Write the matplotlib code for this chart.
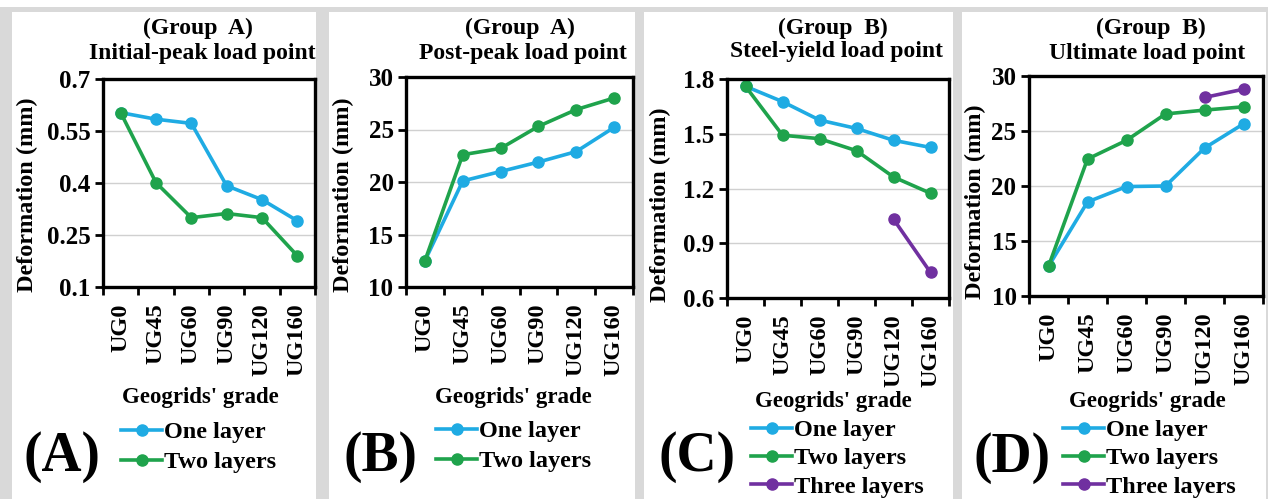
import numpy as np
import matplotlib.pyplot as plt
from matplotlib.patches import Rectangle

plt.rcParams['font.family'] = ['Liberation Serif', 'DejaVu Serif']
plt.rcParams['font.weight'] = 'bold'

# --- dados ---
grades = ["UG0", "UG45", "UG60", "UG90", "UG120", "UG160"]

a_one = [0.603, 0.584, 0.572, 0.392, 0.352, 0.291]
a_two = [0.603, 0.401, 0.300, 0.312, 0.300, 0.190]

b_one = [12.5, 20.1, 21.0, 21.9, 22.9, 25.2]
b_two = [12.5, 22.6, 23.2, 25.3, 26.9, 28.0]

c_one = [1.76, 1.676, 1.575, 1.529, 1.464, 1.425]
c_two = [1.76, 1.492, 1.473, 1.407, 1.263, 1.174]
c_three = [np.nan, np.nan, np.nan, np.nan, 1.032, 0.740]

d_one = [12.7, 18.55, 19.95, 20.0, 23.45, 25.65]
d_two = [12.7, 22.45, 24.15, 26.55, 26.9, 27.2]
d_three = [np.nan, np.nan, np.nan, np.nan, 28.05, 28.8]

blue = "#1fabe3"
green = "#1fa34c"
purple = "#7030a0"

W, H = 1268, 499
fig = plt.figure(figsize=(W / 100, H / 100), dpi=100)
fig.patch.set_facecolor("#d9d9d9")


def px(x, y):
    return x / W, 1 - y / H


# fundo: faixa branca no topo e paineis brancos
fig.patches.append(Rectangle((0, 1 - 7 / H), 1, 7 / H, transform=fig.transFigure,
                             facecolor="white", edgecolor="none", zorder=-2))
for x0, x1 in [(12, 316), (329, 635), (644, 953), (962, 1266)]:
    fig.patches.append(Rectangle((x0 / W, 0), (x1 - x0) / W, 1 - 12 / H,
                                 transform=fig.transFigure, facecolor="white",
                                 edgecolor="none", zorder=-1))

paineis = [
    dict(box=(103, 315, 79, 287), series=[(a_one, blue, "One layer"), (a_two, green, "Two layers")],
         ylim=(0.1, 0.7), yticks=[0.1, 0.25, 0.4, 0.55, 0.7], ylabels=["0.1", "0.25", "0.4", "0.55", "0.7"],
         group="(Group  A)", title="Initial-peak load point", tx=(198, 202), ty=(28, 54),
         ylab=(27, 195), xlab=(200, 397), leg=(121, 421), ls=0.34, tag="(A)", tagpos=(62, 457)),
    dict(box=(406, 633, 77, 287), series=[(b_one, blue, "One layer"), (b_two, green, "Two layers")],
         ylim=(10, 30), yticks=[10, 15, 20, 25, 30], ylabels=["10", "15", "20", "25", "30"],
         group="(Group  A)", title="Post-peak load point", tx=(520, 523), ty=(28, 54),
         ylab=(343, 195), xlab=(513, 397), leg=(436, 420), ls=0.34, tag="(B)", tagpos=(380, 457)),
    dict(box=(727, 949, 79, 298),
         series=[(c_one, blue, "One layer"), (c_two, green, "Two layers"), (c_three, purple, "Three layers")],
         ylim=(0.6, 1.8), yticks=[0.6, 0.9, 1.2, 1.5, 1.8], ylabels=["0.6", "0.9", "1.2", "1.5", "1.8"],
         group="(Group  B)", title="Steel-yield load point", tx=(833, 837), ty=(28, 52),
         ylab=(660, 205), xlab=(833, 402), leg=(751, 419), ls=0.26, tag="(C)", tagpos=(697, 457)),
    dict(box=(1029, 1263, 76, 296),
         series=[(d_one, blue, "One layer"), (d_two, green, "Two layers"), (d_three, purple, "Three layers")],
         ylim=(10, 30), yticks=[10, 15, 20, 25, 30], ylabels=["10", "15", "20", "25", "30"],
         group="(Group  B)", title="Ultimate load point", tx=(1151, 1147), ty=(28, 54),
         ylab=(975, 202), xlab=(1147, 402), leg=(1063, 419), ls=0.26, tag="(D)", tagpos=(1012, 458)),
]

x = np.arange(len(grades))

for p in paineis:
    l, r, t, b = p["box"]
    ax = fig.add_axes([l / W, 1 - b / H, (r - l) / W, (b - t) / H])
    handles = []
    for vals, cor, nome in p["series"]:
        h, = ax.plot(x, vals, color=cor, lw=2.6, marker="o", ms=8, label=nome)
        handles.append(h)
    ax.set_xlim(-0.5, 5.5)
    ax.set_ylim(*p["ylim"])
    ax.set_yticks(p["yticks"])
    ax.set_yticklabels(p["ylabels"], fontsize=18, fontweight="bold")
    ax.set_xticks(x)
    ax.set_xticklabels(grades, rotation=90, fontsize=17.5, fontweight="bold")
    ax.set_xticks(np.arange(-0.5, 6, 1), minor=True)
    ax.tick_params(axis="x", which="major", length=0, pad=12)
    ax.tick_params(axis="x", which="minor", length=6, width=2, direction="out")
    ax.tick_params(axis="y", length=6, width=2, direction="out", pad=3)
    ax.grid(axis="y", color="#d0d0d0", lw=1)
    ax.set_axisbelow(True)
    for s in ax.spines.values():
        s.set_linewidth(2.4)
        s.set_color("black")

    fig.text(*px(p["tx"][0], p["ty"][0]), p["group"], ha="center", va="center",
             fontsize=17, fontweight="bold")
    fig.text(*px(p["tx"][1], p["ty"][1]), p["title"], ha="center", va="center",
             fontsize=17, fontweight="bold")
    fig.text(*px(*p["ylab"]), "Deformation (mm)", ha="center", va="center",
             rotation=90, fontsize=17.5, fontweight="bold")
    fig.text(*px(*p["xlab"]), "Geogrids' grade", ha="center", va="center",
             fontsize=16.5, fontweight="bold")
    fig.text(*px(*p["tagpos"]), p["tag"], ha="center", va="center",
             fontsize=40, fontweight="bold")
    ax.legend(handles=handles, loc="upper left", bbox_to_anchor=px(*p["leg"]),
              bbox_transform=fig.transFigure, frameon=False, borderpad=0,
              borderaxespad=0, handlelength=1.7, handletextpad=0.05,
              labelspacing=p["ls"], prop=dict(size=17.5, weight="bold"))

fig.savefig("out.png", dpi=100, facecolor=fig.get_facecolor())
